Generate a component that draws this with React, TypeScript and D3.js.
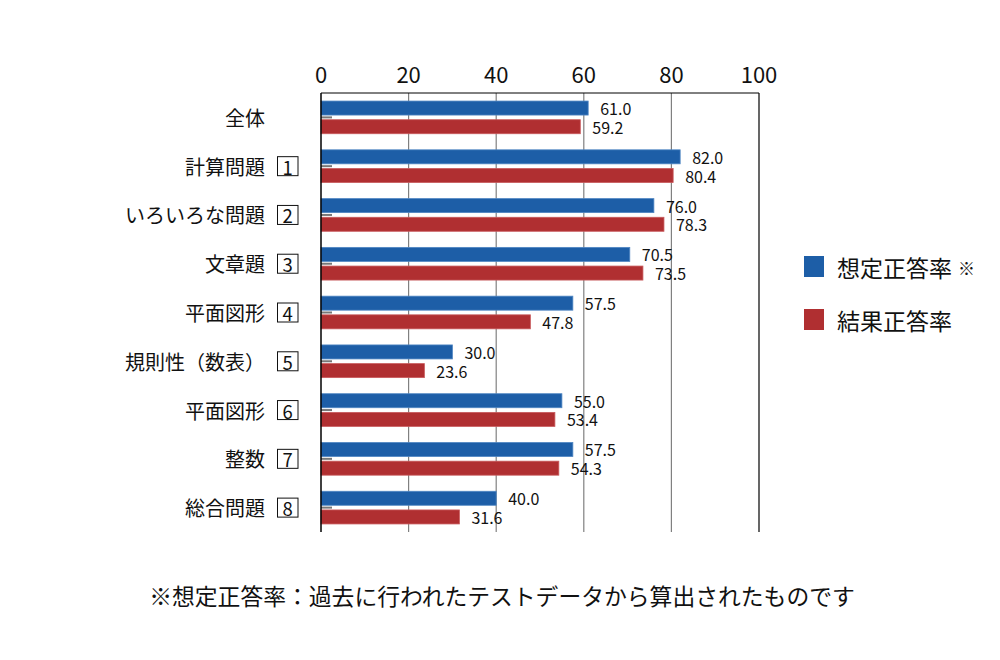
import React from "react";
import * as d3 from "d3";

const categories = ["全体", "計算問題", "いろいろな問題", "文章題", "平面図形", "規則性（数表）", "平面図形", "整数", "総合問題"];
const sectionNumbers = ["", "1", "2", "3", "4", "5", "6", "7", "8"];
const expectedRate = [61.0, 82.0, 76.0, 70.5, 57.5, 30.0, 55.0, 57.5, 40.0];
const actualRate = [59.2, 80.4, 78.3, 73.5, 47.8, 23.6, 53.4, 54.3, 31.6];
const xTicks = [0, 20, 40, 60, 80, 100];
const seriesNames = ["想定正答率", "結果正答率"];
const seriesColors = ["#1d5ea7", "#b02f31"];
const seriesStroke = ["#4f86c3", "#c85a5c"];
const footnote = "※想定正答率：過去に行われたテストデータから算出されたものです";

const FONT = "'Noto Sans CJK JP', 'Noto Sans', sans-serif";

export default function App() {
  const W = 1000, H = 660;
  const left = 321, right = 759, top = 93, bottom = 532;
  const x = d3.scaleLinear().domain([0, 100]).range([left, right]);
  const idx = categories.map((_, i) => String(i));
  const y = d3.scaleBand().domain(idx).range([top, bottom]).paddingInner(0.33).paddingOuter(0.165);
  const inner = d3.scaleBand().domain(["0", "1"]).range([0, y.bandwidth()]).paddingInner(0.25);
  const series = [expectedRate, actualRate];

  return (
    <svg width={W} height={H} style={{ position: "absolute", left: 0, top: 0, background: "#fff" }} fontFamily={FONT}>
      {xTicks.filter(t => t > 0 && t < 100).map(t => (
        <line key={t} x1={x(t)} x2={x(t)} y1={top} y2={bottom} stroke="#808080" strokeWidth={1.2} />
      ))}
      <line x1={left} x2={right} y1={top} y2={top} stroke="#000" strokeWidth={1} />
      <line x1={right} x2={right} y1={top} y2={bottom} stroke="#000" strokeWidth={1.2} />
      {xTicks.map(t => (
        <text key={t} x={x(t)} y={83} textAnchor="middle" fontSize={22} fill="#111">{t}</text>
      ))}
      {idx.map((k, i) => {
        const y0 = y(k)!;
        const cy = y0 + y.bandwidth() / 2;
        return (
          <g key={k}>
            {series.map((s, j) => {
              const by = y0 + inner(String(j))!;
              const bh = inner.bandwidth();
              return (
                <g key={j}>
                  <rect x={x(0)} y={by} width={x(s[i]) - x(0)} height={bh} fill={seriesColors[j]} stroke={seriesStroke[j]} strokeWidth={0.8} />
                  <text x={x(s[i]) + 12} y={by + bh / 2} dominantBaseline="central" fontSize={16} fill="#111">{s[i].toFixed(1)}</text>
                </g>
              );
            })}
            <line x1={left} x2={left + 11} y1={cy} y2={cy} stroke="#777" strokeWidth={2} />
            <text x={265} y={cy} textAnchor="end" dominantBaseline="central" fontSize={20} fill="#111">{categories[i]}</text>
            {sectionNumbers[i] && (
              <g>
                <rect x={277.5} y={cy - 9.5} width={20.5} height={19} fill="#fff" stroke="#111" strokeWidth={1} />
                <text x={287.75} y={cy + 0.5} textAnchor="middle" dominantBaseline="central" fontSize={18.5} fill="#111">{sectionNumbers[i]}</text>
              </g>
            )}
          </g>
        );
      })}
      <line x1={left} x2={left} y1={top} y2={bottom} stroke="#000" strokeWidth={1.5} />
      {seriesNames.map((n, j) => {
        const ly = 266.5 + j * 53;
        return (
          <g key={n}>
            <rect x={804} y={ly - 10.5} width={20} height={21} fill={seriesColors[j]} />
            <text x={837} y={ly} dominantBaseline="central" fontSize={23} fill="#111">
              {n}
              {j === 0 && <tspan fontSize={17} dx={6}>※</tspan>}
            </text>
          </g>
        );
      })}
      <text x={502} y={595} textAnchor="middle" dominantBaseline="central" fontSize={22.8} fill="#111">{footnote}</text>
    </svg>
  );
}
